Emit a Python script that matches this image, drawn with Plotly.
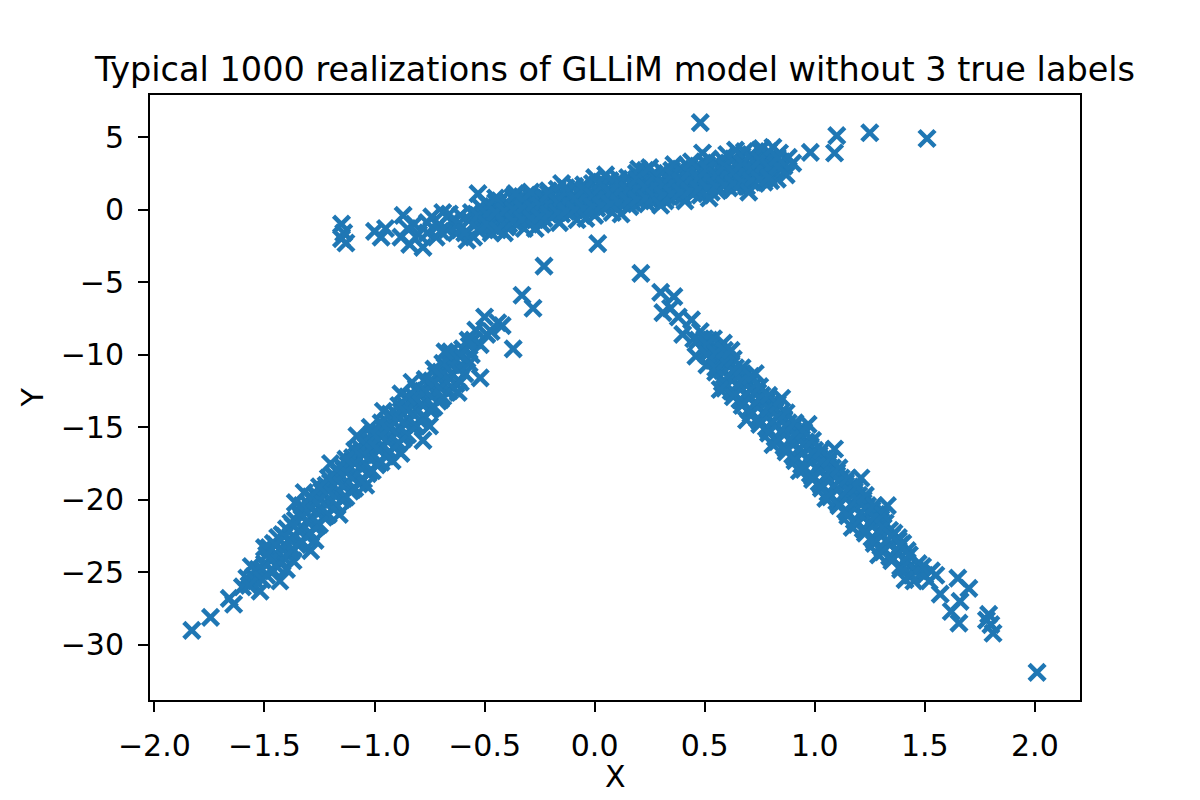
import plotly.graph_objects as go

# ---- data (x, y) ----
upper_pts = [
    (-1.15, -1.0), (-1.14, -1.6), (-1.15, -2.0), (-1.13, -2.3), (-1.0, -1.5), (-0.97, -1.9),
    (-0.95, -1.3), (-0.88, -1.9), (-0.87, -0.4), (-0.85, -1.3), (-0.84, -2.4), (-0.82, -1.0),
    (-0.78, -2.6), (-0.76, -1.6), (-0.74, -0.5), (-0.72, -1.9), (-0.71, -1.1), (-0.69, -0.2),
    (-0.67, -1.4), (-0.65, -0.8), (-0.63, -1.6), (-0.61, -0.4), (-0.60, -1.2), (-0.58, -2.1),
    (-0.57, -0.7),
    (-0.54, -1.0), (-0.54, -0.3), (-0.53, 1.1), (-0.55, -1.9),
    (-0.50, -0.8), (-0.50, -0.2), (-0.49, 0.4), (-0.51, -1.3),
    (-0.46, -0.7), (-0.46, 0.0), (-0.45, 0.5), (-0.47, -1.1),
    (-0.42, -0.6), (-0.42, 0.1), (-0.41, -1.6), (-0.43, 0.6),
    (-0.38, -0.5), (-0.38, 0.2), (-0.37, 0.8), (-0.39, -1.0),
    (-0.34, -0.4), (-0.34, 0.3), (-0.33, 0.9), (-0.35, -0.9),
    (-0.30, -0.3), (-0.30, 0.4), (-0.29, 0.9), (-0.31, -0.8),
    (-0.26, -0.2), (-0.26, 0.5), (-0.25, 1.0), (-0.27, -0.7),
    (-0.22, -0.1), (-0.22, 0.6), (-0.21, 1.3), (-0.23, -0.6),
    (-0.18, 0.0), (-0.18, 0.7), (-0.17, 1.4), (-0.19, -0.4),
    (-0.14, 0.1), (-0.14, 0.8), (-0.13, 1.5), (-0.15, -0.3),
    (-0.10, 0.2), (-0.10, 0.9), (-0.09, 1.6), (-0.11, -0.2),
    (-0.06, 0.3), (-0.06, 1.0), (-0.05, 1.7), (-0.07, -0.1),
    (-0.02, 0.4), (-0.02, 1.1), (-0.01, 1.8), (-0.03, 0.0),
    (0.02, 0.5), (0.02, 1.2), (0.03, 1.9), (0.01, 0.1), (0.014, -2.35),
    (0.06, 0.6), (0.06, 1.3), (0.07, 2.0), (0.05, 0.2),
    (0.10, 0.7), (0.10, 1.4), (0.11, 2.1), (0.09, 0.3),
    (0.14, 0.8), (0.14, 1.5), (0.15, 2.2), (0.13, 0.4),
    (0.18, 0.9), (0.18, 1.6), (0.19, 2.5), (0.17, 0.5),
    (0.22, 1.0), (0.22, 1.7), (0.23, 2.7), (0.21, 0.6),
    (0.26, 1.1), (0.26, 1.8), (0.27, 2.5), (0.25, 0.7),
    (0.30, 1.2), (0.30, 1.9), (0.31, 2.6), (0.29, 0.8),
    (0.34, 1.3), (0.34, 2.0), (0.35, 2.7), (0.33, 0.9),
    (0.38, 1.4), (0.38, 2.1), (0.39, 2.8), (0.37, 1.0),
    (0.42, 1.5), (0.42, 2.2), (0.43, 2.9), (0.41, 0.6),
    (0.46, 1.6), (0.46, 2.3), (0.47, 3.0), (0.45, 1.1),
    (0.50, 1.7), (0.50, 2.4), (0.51, 3.1), (0.49, 3.9), (0.48, 6.0),
    (0.54, 1.8), (0.54, 2.5), (0.55, 3.2), (0.53, 1.2),
    (0.58, 1.9), (0.58, 2.6), (0.59, 3.3), (0.57, 1.4),
    (0.62, 2.0), (0.62, 2.7), (0.63, 3.5), (0.61, 1.5),
    (0.66, 2.1), (0.66, 2.8), (0.67, 3.7), (0.65, 1.7),
    (0.70, 2.2), (0.70, 3.0), (0.71, 3.8), (0.69, 1.6),
    (0.74, 2.3), (0.74, 3.1), (0.75, 4.1), (0.73, 1.8),
    (0.78, 2.4), (0.78, 3.2), (0.79, 4.0), (0.77, 1.9),
    (0.82, 2.6), (0.82, 3.4), (0.83, 2.1), (0.84, 3.9),
    (0.86, 3.0), (0.88, 3.6), (0.87, 2.4), (0.90, 3.2),
    (0.98, 3.95), (1.09, 3.9), (1.10, 5.1), (1.25, 5.3), (1.51, 4.9),
]

upper_fill = [
    (-0.80, -1.7), (-0.76, -0.9), (-0.70, -1.5), (-0.66, -0.3), (-0.62, -1.0),
    (-0.59, -1.6), (-0.56, -0.2),
    (-0.52, -0.6), (-0.52, 0.2), (-0.48, -0.5), (-0.48, 0.3), (-0.47, -1.6),
    (-0.44, -0.4), (-0.44, 0.4), (-0.40, -0.3), (-0.40, 0.5), (-0.40, -1.2),
    (-0.36, -0.2), (-0.36, 0.6), (-0.32, -0.1), (-0.32, 0.7), (-0.32, -1.3),
    (-0.28, 0.0), (-0.28, 0.8), (-0.24, 0.1), (-0.24, 0.9), (-0.24, -1.0),
    (-0.20, 0.2), (-0.20, 1.0), (-0.16, 0.3), (-0.16, 1.1), (-0.16, -0.9),
    (-0.12, 0.4), (-0.12, 1.2), (-0.08, 0.5), (-0.08, 1.3), (-0.08, -0.7),
    (-0.04, 0.6), (-0.04, 1.4), (0.00, 0.7), (0.00, 1.5), (0.00, -0.4), (0.00, 2.2),
    (0.04, 0.8), (0.04, 1.6), (0.08, 0.9), (0.08, 1.7), (0.08, -0.2),
    (0.12, 1.0), (0.12, 1.8), (0.16, 1.1), (0.16, 1.9), (0.16, 0.2),
    (0.20, 1.2), (0.20, 2.0), (0.20, 2.8), (0.24, 1.3), (0.24, 2.1), (0.24, 0.4),
    (0.28, 1.4), (0.28, 2.2), (0.32, 1.5), (0.32, 2.3), (0.32, 0.6),
    (0.36, 1.6), (0.36, 2.4), (0.36, 3.1), (0.40, 1.7), (0.40, 2.5), (0.40, 0.9),
    (0.44, 1.8), (0.44, 2.6), (0.48, 1.9), (0.48, 2.7), (0.48, 1.0),
    (0.52, 2.0), (0.52, 2.8), (0.52, 3.5), (0.56, 2.1), (0.56, 2.9), (0.56, 1.3),
    (0.60, 2.2), (0.60, 3.0), (0.60, 3.8), (0.64, 2.3), (0.64, 3.1), (0.64, 1.6),
    (0.68, 2.4), (0.68, 3.3), (0.68, 4.0), (0.72, 2.6), (0.72, 3.4), (0.72, 1.9),
    (0.76, 2.7), (0.76, 3.5), (0.76, 4.2), (0.80, 2.8), (0.80, 3.6), (0.80, 2.0),
    (0.84, 2.9), (0.85, 3.3),
]

upper_fill2 = [
    (-0.53, -0.4), (-0.53, -1.4), (-0.49, -0.3), (-0.49, -1.0), (-0.45, -0.2), (-0.45, 0.8),
    (-0.41, -0.1), (-0.41, -0.9), (-0.37, 0.0), (-0.37, 0.9), (-0.37, -0.8),
    (-0.33, 0.1), (-0.33, -0.7), (-0.29, 0.2), (-0.29, 1.2), (-0.29, -0.6),
    (-0.25, 0.3), (-0.25, -0.5), (-0.21, 0.4), (-0.21, -0.3), (-0.21, 1.1),
    (-0.17, 0.5), (-0.17, -0.2), (-0.13, 0.6), (-0.13, -0.1), (-0.13, 1.2),
    (-0.09, 0.75), (-0.09, 0.0), (-0.05, 0.85), (-0.05, 0.1), (-0.05, 1.4),
    (-0.01, 0.95), (-0.01, 0.2), (0.03, 1.05), (0.03, 0.3), (0.03, 1.6),
    (0.07, 1.15), (0.07, 0.4), (0.11, 1.25), (0.11, 0.5), (0.11, 1.8),
    (0.15, 1.35), (0.15, 0.6), (0.19, 1.45), (0.19, 0.7), (0.19, 2.1),
    (0.23, 1.55), (0.23, 0.8), (0.27, 1.65), (0.27, 0.9), (0.27, 2.3),
    (0.31, 1.75), (0.31, 1.0), (0.35, 1.85), (0.35, 1.1), (0.35, 2.4),
    (0.39, 1.95), (0.39, 1.2), (0.43, 2.05), (0.43, 1.3), (0.43, 2.6),
    (0.47, 2.15), (0.47, 1.4), (0.51, 2.25), (0.51, 1.5), (0.51, 2.8),
    (0.55, 2.35), (0.55, 1.6), (0.59, 2.45), (0.59, 1.7), (0.59, 3.0),
    (0.63, 2.55), (0.63, 1.8), (0.67, 2.65), (0.67, 1.9), (0.67, 3.2),
    (0.71, 2.75), (0.71, 2.0), (0.75, 2.85), (0.75, 2.1), (0.75, 3.4),
    (0.79, 2.95), (0.79, 2.2), (0.83, 3.0), (0.83, 3.6),
]

upper_edge = [
    (-0.44, -1.4), (-0.36, 1.1), (-0.27, -1.3), (-0.15, 1.8), (-0.04, -0.6), (0.05, 2.4),
    (0.12, -0.3), (0.25, 2.9), (0.30, 0.3), (0.44, 3.3), (0.52, 0.8), (0.64, 4.1),
    (0.70, 1.2), (0.81, 4.3),
]

left_pts = [
    (-0.23, -3.9), (-0.33, -5.9), (-0.28, -6.8), (-0.37, -9.6), (-0.44, -7.8),
    (-0.42, -8.0), (-0.47, -8.4),
    (-0.50, -7.4), (-0.49, -8.6), (-0.52, -9.3), (-0.52, -11.6),
    (-0.55, -9.0), (-0.56, -10.0), (-0.54, -8.3),
    (-0.60, -9.6), (-0.61, -10.8), (-0.59, -11.3),
    (-0.64, -10.2), (-0.65, -11.3), (-0.63, -12.0),
    (-0.68, -10.8), (-0.69, -12.0), (-0.67, -12.6), (-0.70, -11.2),
    (-0.72, -11.4), (-0.73, -12.6), (-0.71, -13.2), (-0.74, -11.8),
    (-0.76, -12.0), (-0.77, -13.2), (-0.75, -13.8), (-0.78, -12.5),
    (-0.80, -12.6), (-0.81, -13.8), (-0.79, -14.6), (-0.82, -13.2), (-0.78, -15.9),
    (-0.84, -13.2), (-0.85, -14.4), (-0.83, -15.0), (-0.86, -13.7),
    (-0.88, -12.7), (-0.88, -13.9), (-0.89, -15.0), (-0.87, -15.8), (-0.88, -16.8),
    (-0.92, -14.5), (-0.93, -15.7), (-0.91, -16.4), (-0.94, -15.0),
    (-0.96, -15.1), (-0.97, -16.3), (-0.95, -17.0), (-0.98, -15.5),
    (-1.00, -15.7), (-1.01, -16.9), (-0.99, -17.6), (-1.02, -15.0), (-1.03, -16.1),
    (-1.04, -16.3), (-1.05, -17.5), (-1.03, -18.2), (-1.06, -16.7),
    (-1.08, -17.0), (-1.09, -18.2), (-1.07, -18.9), (-1.10, -17.3),
    (-1.12, -17.6), (-1.13, -18.8), (-1.11, -19.4), (-1.14, -17.9),
    (-1.16, -18.2), (-1.17, -19.4), (-1.15, -20.0), (-1.18, -18.5),
    (-1.20, -18.8), (-1.21, -20.0), (-1.19, -20.6), (-1.22, -19.2),
    (-1.24, -19.4), (-1.25, -20.6), (-1.23, -21.2), (-1.26, -19.8),
    (-1.28, -20.0), (-1.29, -21.2), (-1.27, -21.9), (-1.29, -23.5),
    (-1.32, -20.7), (-1.33, -21.9), (-1.31, -22.5), (-1.34, -21.0),
    (-1.36, -21.4), (-1.37, -22.5), (-1.35, -23.1), (-1.37, -24.2),
    (-1.40, -22.0), (-1.41, -23.1), (-1.39, -23.7), (-1.42, -22.4),
    (-1.44, -22.6), (-1.45, -23.7), (-1.43, -25.6), (-1.46, -23.0),
    (-1.48, -23.3), (-1.50, -24.4), (-1.49, -25.2), (-1.50, -23.3),
    (-1.52, -26.3), (-1.53, -24.8), (-1.55, -25.3), (-1.56, -24.6),
    (-1.58, -25.4), (-1.60, -26.0), (-1.64, -27.2), (-1.66, -26.8),
    (-1.745, -28.1), (-1.83, -29.0),
]

left_fill = [
    (-0.58, -10.3), (-0.57, -9.4), (-0.62, -11.0), (-0.62, -10.0),
    (-0.66, -11.6), (-0.66, -10.6), (-0.66, -12.5), (-0.70, -12.3), (-0.70, -11.4), (-0.70, -13.1),
    (-0.74, -12.9), (-0.74, -12.0), (-0.74, -13.7), (-0.78, -13.5), (-0.78, -12.6), (-0.78, -14.3),
    (-0.82, -14.1), (-0.82, -12.9), (-0.82, -15.0), (-0.86, -14.8), (-0.86, -13.5), (-0.86, -15.6),
    (-0.90, -15.4), (-0.90, -14.1), (-0.90, -16.2), (-0.94, -16.0), (-0.94, -14.7), (-0.94, -16.8),
    (-0.98, -16.6), (-0.98, -15.3), (-0.98, -17.4), (-1.02, -17.2), (-1.02, -15.9), (-1.02, -18.0),
    (-1.06, -17.8), (-1.06, -16.5), (-1.06, -18.7), (-1.10, -18.5), (-1.10, -17.1), (-1.10, -19.3),
    (-1.14, -19.1), (-1.14, -17.8), (-1.14, -19.9), (-1.18, -19.7), (-1.18, -18.4), (-1.18, -20.5),
    (-1.22, -20.3), (-1.22, -19.0), (-1.22, -21.1), (-1.26, -20.9), (-1.26, -19.7), (-1.26, -21.8),
    (-1.30, -21.6), (-1.30, -20.3), (-1.30, -22.4), (-1.34, -22.2), (-1.34, -20.9), (-1.34, -23.0),
    (-1.38, -22.8), (-1.38, -21.6), (-1.38, -23.6), (-1.42, -23.4), (-1.42, -24.3),
    (-1.46, -24.0), (-1.46, -24.9), (-1.51, -24.8), (-1.54, -25.6), (-1.57, -25.9),
]

left_fill2 = [
    (-0.57, -10.6), (-0.575, -9.0), (-0.61, -10.0), (-0.61, -11.9),
    (-0.65, -10.7), (-0.645, -12.3), (-0.655, -9.8), (-0.69, -11.3), (-0.69, -12.9), (-0.69, -10.6),
    (-0.73, -11.9), (-0.73, -13.6), (-0.73, -11.0), (-0.77, -12.5), (-0.77, -14.3), (-0.77, -11.7),
    (-0.81, -13.1), (-0.81, -14.9), (-0.81, -12.3), (-0.85, -13.8), (-0.85, -15.5), (-0.85, -12.9),
    (-0.89, -14.4), (-0.89, -16.1), (-0.89, -13.5), (-0.93, -15.0), (-0.93, -16.7), (-0.93, -14.1),
    (-0.97, -15.6), (-0.97, -17.4), (-0.97, -14.7), (-1.01, -16.2), (-1.01, -18.0), (-1.01, -15.4),
    (-1.05, -16.9), (-1.05, -18.6), (-1.05, -16.0), (-1.09, -17.5), (-1.09, -19.2), (-1.09, -16.6),
    (-1.13, -18.1), (-1.13, -19.8), (-1.13, -17.2), (-1.17, -18.7), (-1.17, -20.4), (-1.17, -17.9),
    (-1.21, -19.4), (-1.21, -21.0), (-1.21, -18.5), (-1.25, -20.0), (-1.25, -21.7), (-1.25, -19.1),
    (-1.29, -20.6), (-1.29, -22.3), (-1.29, -19.8), (-1.33, -21.2), (-1.33, -22.9), (-1.33, -20.4),
    (-1.37, -21.8), (-1.37, -23.4), (-1.41, -22.5), (-1.41, -24.0), (-1.45, -23.1), (-1.45, -24.5),
    (-1.49, -23.8), (-1.51, -25.5),
]

left_edge = [
    (-0.62, -12.6), (-0.68, -9.8), (-0.75, -14.9), (-0.83, -11.9), (-0.92, -17.3),
    (-0.96, -13.9), (-1.04, -19.0), (-1.08, -15.6), (-1.16, -21.0), (-1.20, -17.5),
    (-1.27, -22.8), (-1.32, -19.5), (-1.40, -24.8), (-1.36, -20.2),
]

right_pts = [
    (0.21, -4.4), (0.30, -5.7), (0.36, -6.0), (0.31, -7.1), (0.345, -6.8),
    (0.40, -8.6), (0.38, -7.4),
    (0.44, -7.6), (0.45, -8.9), (0.46, -10.1),
    (0.48, -8.4), (0.49, -9.6), (0.47, -9.0),
    (0.52, -9.0), (0.53, -10.2), (0.54, -8.9), (0.51, -10.7),
    (0.56, -9.6), (0.57, -10.8), (0.55, -11.2), (0.585, -9.2),
    (0.60, -10.3), (0.61, -11.5), (0.59, -11.9),
    (0.64, -10.9), (0.65, -12.1), (0.63, -12.6), (0.66, -11.3),
    (0.68, -11.5), (0.69, -12.7), (0.67, -13.2), (0.70, -11.9),
    (0.72, -12.2), (0.73, -13.4), (0.71, -13.9), (0.74, -12.6),
    (0.76, -12.8), (0.77, -14.0), (0.75, -14.6), (0.78, -13.2),
    (0.80, -13.4), (0.81, -14.6), (0.79, -15.2), (0.82, -13.8),
    (0.84, -14.1), (0.85, -15.3), (0.83, -15.9), (0.86, -14.4),
    (0.88, -14.7), (0.89, -15.9), (0.87, -16.5), (0.90, -15.0),
    (0.92, -15.3), (0.93, -16.5), (0.91, -17.1), (0.94, -15.6),
    (0.96, -16.0), (0.97, -17.2), (0.95, -17.8), (0.98, -16.3),
    (1.00, -16.6), (1.01, -17.8), (0.99, -18.4), (1.02, -16.9),
    (1.04, -17.2), (1.05, -18.4), (1.03, -19.0), (1.06, -17.5),
    (1.08, -17.8), (1.09, -19.0), (1.07, -19.7), (1.10, -18.1),
    (1.12, -18.5), (1.13, -19.7), (1.11, -20.3), (1.14, -18.8),
    (1.16, -19.1), (1.17, -20.3), (1.15, -20.9), (1.18, -19.4),
    (1.20, -19.7), (1.21, -20.9), (1.19, -21.5), (1.22, -20.0),
    (1.24, -20.4), (1.25, -21.6), (1.23, -22.1), (1.26, -20.7),
    (1.28, -21.0), (1.29, -22.2), (1.27, -22.8), (1.30, -21.3),
    (1.32, -21.6), (1.33, -22.8), (1.31, -23.4),
    (1.36, -22.3), (1.37, -23.5), (1.35, -24.0), (1.38, -22.6),
    (1.40, -23.0), (1.41, -24.1), (1.39, -24.6),
    (1.45, -25.6), (1.43, -24.6), (1.47, -24.4), (1.53, -24.9), (1.50, -25.2),
    (1.57, -26.5), (1.62, -27.7), (1.655, -28.5), (1.66, -27.0), (1.65, -25.4),
    (1.70, -26.1), (1.79, -27.9), (1.80, -28.6), (1.81, -29.2), (1.78, -28.3),
    (2.01, -31.9),
]

right_fill = [
    (0.50, -9.8), (0.50, -8.9), (0.54, -10.4), (0.54, -9.6),
    (0.58, -11.1), (0.58, -10.1), (0.58, -11.9), (0.62, -11.7), (0.62, -10.7), (0.62, -12.5),
    (0.66, -12.3), (0.66, -11.4), (0.66, -13.1), (0.70, -13.0), (0.70, -12.0), (0.70, -13.8),
    (0.74, -13.6), (0.74, -12.6), (0.74, -14.4), (0.78, -14.2), (0.78, -13.3), (0.78, -15.0),
    (0.82, -14.9), (0.82, -13.9), (0.82, -15.7), (0.86, -15.5), (0.86, -14.5), (0.86, -16.3),
    (0.90, -16.1), (0.90, -15.2), (0.90, -16.9), (0.94, -16.8), (0.94, -15.8), (0.94, -17.6),
    (0.98, -17.4), (0.98, -16.4), (0.98, -18.2), (1.02, -18.0), (1.02, -17.1), (1.02, -18.8),
    (1.06, -18.6), (1.06, -17.7), (1.06, -19.5), (1.10, -19.3), (1.10, -18.3), (1.10, -20.1),
    (1.14, -19.9), (1.14, -19.0), (1.14, -20.7), (1.18, -20.5), (1.18, -19.6), (1.18, -21.4),
    (1.22, -21.2), (1.22, -20.2), (1.22, -22.0), (1.26, -21.8), (1.26, -20.9), (1.26, -22.6),
    (1.30, -22.4), (1.30, -21.5), (1.30, -23.2), (1.34, -23.1), (1.34, -22.1), (1.34, -23.9),
    (1.38, -23.7), (1.38, -22.8), (1.42, -24.3), (1.42, -23.5),
    (1.46, -24.9), (1.49, -24.6), (1.52, -25.6), (1.55, -25.2),
]

right_fill2 = [
    (0.51, -9.3), (0.51, -10.0), (0.55, -9.9), (0.55, -10.9),
    (0.59, -10.5), (0.59, -12.3), (0.59, -9.7), (0.63, -11.1), (0.63, -12.9), (0.63, -10.3),
    (0.67, -11.8), (0.67, -13.5), (0.67, -10.9), (0.71, -12.4), (0.71, -14.1), (0.71, -11.5),
    (0.75, -13.0), (0.75, -14.8), (0.75, -12.2), (0.79, -13.7), (0.79, -15.4), (0.79, -12.8),
    (0.83, -14.3), (0.83, -16.0), (0.83, -13.4), (0.87, -14.9), (0.87, -16.7), (0.87, -14.0),
    (0.91, -15.5), (0.91, -17.3), (0.91, -14.7), (0.95, -16.2), (0.95, -17.9), (0.95, -15.3),
    (0.99, -16.8), (0.99, -18.6), (0.99, -15.9), (1.03, -17.4), (1.03, -19.2), (1.03, -16.6),
    (1.07, -18.1), (1.07, -19.8), (1.07, -17.2), (1.11, -18.7), (1.11, -20.4), (1.11, -17.8),
    (1.15, -19.3), (1.15, -21.1), (1.15, -18.5), (1.19, -20.0), (1.19, -21.7), (1.19, -19.1),
    (1.23, -20.6), (1.23, -22.3), (1.23, -19.7), (1.27, -21.2), (1.27, -23.0), (1.27, -20.4),
    (1.31, -21.9), (1.31, -23.6), (1.31, -21.0), (1.35, -22.5), (1.35, -24.2),
    (1.39, -23.1), (1.39, -24.8), (1.43, -23.8), (1.44, -25.2),
]

right_edge = [
    (0.57, -12.4), (0.62, -9.7), (0.69, -14.5), (0.73, -11.3), (0.81, -16.2),
    (0.85, -13.0), (0.93, -18.0), (0.97, -14.8), (1.05, -19.9), (1.09, -16.5),
    (1.17, -21.9), (1.21, -18.5), (1.29, -23.8), (1.33, -20.4), (1.41, -25.5),
]

x_ticks = [-2.0, -1.5, -1.0, -0.5, 0.0, 0.5, 1.0, 1.5, 2.0]
x_tick_labels = ["−2.0", "−1.5", "−1.0", "−0.5", "0.0", "0.5", "1.0", "1.5", "2.0"]
y_ticks = [5, 0, -5, -10, -15, -20, -25, -30]
y_tick_labels = ["5", "0", "−5", "−10", "−15", "−20", "−25", "−30"]

title_text = "Typical 1000 realizations of GLLiM model without 3 true labels"

all_pts = (upper_pts + upper_fill + upper_fill2 + upper_edge
           + left_pts + left_fill + left_fill2 + left_edge
           + right_pts + right_fill + right_fill2 + right_edge)
xs = [p[0] for p in all_pts]
ys = [p[1] for p in all_pts]

COLOR = "#1f77b4"
FONT = "DejaVu Sans"

fig = go.Figure()
fig.add_trace(go.Scatter(
    x=xs, y=ys, mode="markers",
    marker=dict(symbol="x-thin", size=16, color=COLOR,
                line=dict(color=COLOR, width=4.5)),
    showlegend=False, hoverinfo="skip",
))

axis_common = dict(
    showgrid=False, zeroline=False, showline=True, mirror=True,
    linecolor="black", linewidth=2, ticks="outside", ticklen=10,
    tickwidth=2, tickcolor="black",
    tickfont=dict(family=FONT, size=30, color="black"),
    ticklabelstandoff=8,
)

fig.update_layout(
    width=1200, height=800,
    margin=dict(l=150, r=120, t=95, b=100),
    paper_bgcolor="white", plot_bgcolor="white",
    font=dict(family=FONT, color="black"),
    title=dict(text=title_text, font=dict(family=FONT, size=33.5, color="black"),
               x=0.5, xref="paper", xanchor="center",
               y=1 - 69 / 800, yref="container", yanchor="middle"),
    xaxis=dict(range=[-2.02, 2.205], tickvals=x_ticks, ticktext=x_tick_labels,
               **axis_common),
    yaxis=dict(range=[-33.8, 7.9], tickvals=y_ticks, ticktext=y_tick_labels,
               **axis_common),
    annotations=[
        dict(text="X", xref="paper", yref="paper", x=0.5, y=-(776 - 700) / 605,
             xanchor="center", yanchor="middle", showarrow=False,
             font=dict(family=FONT, size=30, color="black")),
        dict(text="Y", xref="paper", yref="paper", x=-(150 - 32) / 930, y=0.5,
             xanchor="center", yanchor="middle", showarrow=False, textangle=-90,
             font=dict(family=FONT, size=30, color="black")),
    ],
)

fig.write_html("out.html")
